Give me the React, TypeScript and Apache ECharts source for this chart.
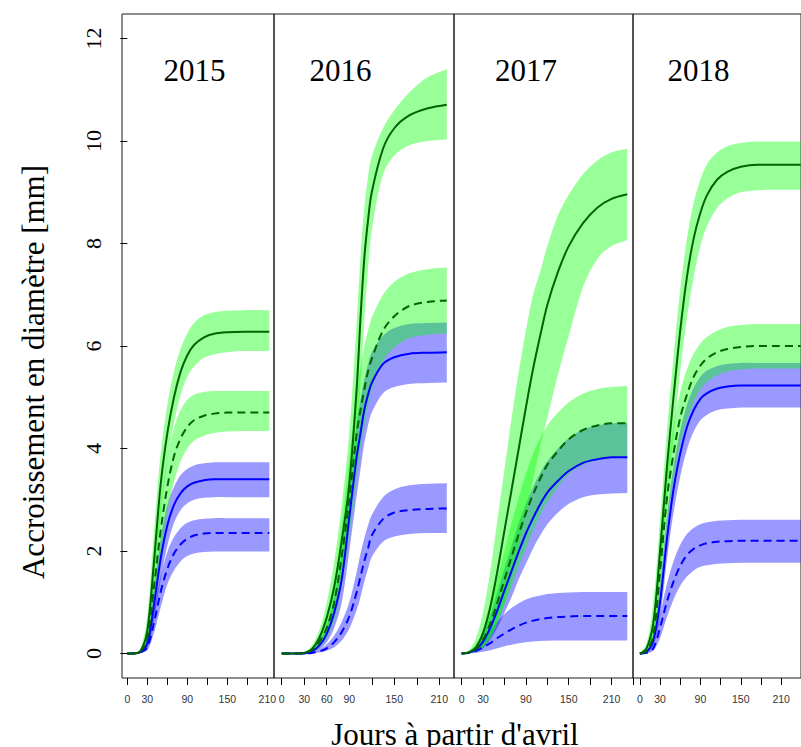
import React, { useEffect, useRef } from "react";
import * as echarts from "echarts";

// ---------- data ----------
const YEARS = ["2015", "2016", "2017", "2018"];
const Y_TICKS = [0, 2, 4, 6, 8, 10, 12];
const X_TICKS_2015 = [0, 30, 60, 90, 120, 150, 180, 210];
const X_LABELS_2015 = [0, 30, 90, 150, 210];
const X_TICKS_2016 = [0, 30, 60, 90, 120, 150, 180, 210];
const X_LABELS_2016 = [0, 30, 60, 90, 150, 210];
const X_TICKS_2017 = [0, 30, 60, 90, 120, 150, 180, 210, 240];
const X_LABELS_2017 = [0, 30, 90, 150, 210];
const X_TICKS_2018 = [0, 30, 60, 90, 120, 150, 180, 210, 240];
const X_LABELS_2018 = [0, 30, 90, 150, 210];

const X_TITLE = "Jours à partir d'avril";
const Y_TITLE = "Accroissement en diamètre [mm]";

// 2015
const DAYS_2015 = [0, 10, 20, 30, 40, 50, 60, 70, 80, 90, 100, 115, 130, 150, 175, 200, 213];
const GS_2015 = [0, 0, 0.05, 0.45, 1.8, 3.3, 4.3, 5.0, 5.5, 5.82, 6.02, 6.17, 6.24, 6.27, 6.28, 6.28, 6.28];
const GS_2015_HI = [0, 0, 0.1, 0.75, 2.4, 3.9, 4.85, 5.5, 5.95, 6.25, 6.45, 6.6, 6.66, 6.69, 6.7, 6.7, 6.7];
const GS_2015_LO = [0, 0, 0.02, 0.25, 1.3, 2.7, 3.75, 4.5, 5.05, 5.4, 5.6, 5.77, 5.84, 5.88, 5.9, 5.9, 5.9];
const GD_2015 = [0, 0, 0.04, 0.3, 1.3, 2.4, 3.25, 3.85, 4.2, 4.42, 4.55, 4.64, 4.68, 4.7, 4.7, 4.7, 4.7];
const GD_2015_HI = [0, 0, 0.08, 0.5, 1.75, 2.95, 3.8, 4.4, 4.75, 4.95, 5.05, 5.1, 5.12, 5.12, 5.12, 5.12, 5.12];
const GD_2015_LO = [0, 0, 0.02, 0.17, 0.9, 1.9, 2.75, 3.35, 3.75, 4.0, 4.15, 4.25, 4.3, 4.33, 4.34, 4.34, 4.34];
const BS_2015 = [0, 0, 0.03, 0.2, 0.95, 1.85, 2.5, 2.9, 3.13, 3.26, 3.33, 3.38, 3.4, 3.4, 3.4, 3.4, 3.4];
const BS_2015_HI = [0, 0, 0.06, 0.35, 1.3, 2.25, 2.9, 3.25, 3.48, 3.6, 3.67, 3.71, 3.73, 3.73, 3.73, 3.73, 3.73];
const BS_2015_LO = [0, 0, 0.01, 0.1, 0.65, 1.45, 2.1, 2.55, 2.8, 2.93, 3.0, 3.04, 3.05, 3.05, 3.05, 3.05, 3.05];
const BD_2015 = [0, 0, 0.02, 0.12, 0.6, 1.2, 1.65, 1.95, 2.13, 2.24, 2.3, 2.34, 2.35, 2.35, 2.35, 2.35, 2.35];
const BD_2015_HI = [0, 0, 0.04, 0.22, 0.85, 1.5, 1.98, 2.27, 2.45, 2.55, 2.6, 2.63, 2.64, 2.64, 2.64, 2.64, 2.64];
const BD_2015_LO = [0, 0, 0.01, 0.06, 0.4, 0.9, 1.35, 1.62, 1.8, 1.9, 1.95, 1.98, 1.99, 1.99, 1.99, 1.99, 1.99];

// 2016
const DAYS_2016 = [0, 10, 20, 30, 40, 50, 60, 70, 80, 90, 100, 105, 110, 115, 120, 135, 150, 170, 195, 220];
const GS_2016 = [0, 0, 0, 0.01, 0.08, 0.3, 0.7, 1.3, 2.2, 3.3, 5.2, 6.55, 7.7, 8.45, 9.0, 9.85, 10.25, 10.5, 10.64, 10.71];
const GS_2016_HI = [0, 0, 0.01, 0.03, 0.15, 0.45, 1.0, 1.8, 2.9, 4.3, 6.5, 7.75, 8.7, 9.3, 9.7, 10.25, 10.6, 10.95, 11.25, 11.4];
const GS_2016_LO = [0, 0, 0, 0, 0.03, 0.18, 0.45, 0.9, 1.6, 2.5, 4.0, 5.25, 6.5, 7.5, 8.25, 9.35, 9.72, 9.92, 10.0, 10.03];
const GD_2016 = [0, 0, 0, 0.01, 0.06, 0.22, 0.5, 1.0, 1.9, 3.0, 4.3, 4.75, 5.15, 5.5, 5.75, 6.3, 6.58, 6.78, 6.86, 6.89];
const GD_2016_HI = [0, 0, 0, 0.02, 0.1, 0.35, 0.75, 1.45, 2.5, 3.8, 5.1, 5.6, 6.0, 6.3, 6.55, 7.0, 7.25, 7.42, 7.5, 7.53];
const GD_2016_LO = [0, 0, 0, 0, 0.03, 0.12, 0.3, 0.65, 1.35, 2.3, 3.5, 4.0, 4.45, 4.85, 5.15, 5.7, 5.97, 6.15, 6.22, 6.25];
const BS_2016 = [0, 0, 0, 0, 0.04, 0.15, 0.38, 0.8, 1.45, 2.65, 3.85, 4.3, 4.75, 5.05, 5.28, 5.65, 5.78, 5.85, 5.87, 5.88];
const BS_2016_HI = [0, 0, 0, 0.01, 0.08, 0.25, 0.55, 1.1, 1.95, 3.3, 4.5, 4.95, 5.35, 5.65, 5.88, 6.2, 6.35, 6.43, 6.45, 6.46];
const BS_2016_LO = [0, 0, 0, 0, 0.02, 0.08, 0.22, 0.5, 1.0, 2.0, 3.1, 3.6, 4.1, 4.45, 4.7, 5.08, 5.2, 5.26, 5.28, 5.29];
const BD_2016 = [0, 0, 0, 0, 0.01, 0.04, 0.1, 0.22, 0.42, 0.72, 1.2, 1.5, 1.8, 2.05, 2.3, 2.62, 2.75, 2.8, 2.82, 2.83];
const BD_2016_HI = [0, 0, 0, 0, 0.03, 0.08, 0.18, 0.35, 0.62, 1.0, 1.6, 1.95, 2.25, 2.5, 2.7, 3.05, 3.2, 3.28, 3.31, 3.32];
const BD_2016_LO = [0, 0, 0, 0, 0, 0.02, 0.05, 0.12, 0.25, 0.48, 0.85, 1.1, 1.4, 1.65, 1.88, 2.18, 2.28, 2.33, 2.35, 2.35];

// 2017
const DAYS_2017 = [0, 10, 20, 30, 40, 50, 60, 70, 80, 90, 100, 110, 120, 135, 150, 170, 190, 210, 232];
const GS_2017 = [0, 0.02, 0.12, 0.4, 0.9, 1.6, 2.4, 3.2, 4.0, 4.8, 5.55, 6.2, 6.8, 7.45, 7.95, 8.4, 8.7, 8.87, 8.96];
const GS_2017_HI = [0, 0.05, 0.3, 0.8, 1.6, 2.6, 3.6, 4.6, 5.5, 6.3, 7.0, 7.45, 7.95, 8.55, 8.95, 9.35, 9.62, 9.78, 9.85];
const GS_2017_LO = [0, 0, 0.03, 0.12, 0.3, 0.6, 1.0, 1.5, 2.1, 2.75, 3.4, 4.05, 4.6, 5.45, 6.2, 7.15, 7.7, 7.95, 8.07];
const GD_2017 = [0, 0.02, 0.09, 0.27, 0.58, 0.99, 1.44, 1.89, 2.33, 2.74, 3.1, 3.41, 3.68, 3.95, 4.18, 4.36, 4.45, 4.49, 4.49];
const GD_2017_HI = [0, 0.04, 0.18, 0.45, 0.9, 1.45, 2.0, 2.55, 3.05, 3.5, 3.9, 4.2, 4.45, 4.7, 4.9, 5.07, 5.16, 5.2, 5.22];
const GD_2017_LO = [0, 0.01, 0.03, 0.12, 0.3, 0.6, 0.95, 1.3, 1.7, 2.05, 2.4, 2.7, 2.95, 3.25, 3.5, 3.68, 3.77, 3.81, 3.83];
const BS_2017 = [0, 0.015, 0.08, 0.23, 0.5, 0.84, 1.23, 1.61, 1.99, 2.34, 2.64, 2.91, 3.14, 3.37, 3.56, 3.72, 3.79, 3.83, 3.83];
const BS_2017_HI = [0, 0.03, 0.15, 0.38, 0.75, 1.2, 1.65, 2.1, 2.55, 2.92, 3.25, 3.52, 3.75, 4.0, 4.2, 4.37, 4.45, 4.49, 4.5];
const BS_2017_LO = [0, 0.005, 0.03, 0.1, 0.27, 0.5, 0.8, 1.1, 1.45, 1.75, 2.05, 2.3, 2.52, 2.75, 2.92, 3.05, 3.1, 3.12, 3.13];
const BD_2017 = [0, 0.01, 0.05, 0.12, 0.2, 0.3, 0.39, 0.47, 0.54, 0.6, 0.64, 0.67, 0.69, 0.71, 0.72, 0.73, 0.73, 0.73, 0.73];
const BD_2017_HI = [0, 0.03, 0.12, 0.28, 0.45, 0.62, 0.77, 0.89, 0.98, 1.05, 1.1, 1.13, 1.16, 1.18, 1.19, 1.2, 1.2, 1.2, 1.2];
const BD_2017_LO = [0, 0, 0.01, 0.03, 0.06, 0.1, 0.14, 0.17, 0.2, 0.22, 0.23, 0.24, 0.245, 0.25, 0.25, 0.25, 0.25, 0.25, 0.25];

// 2018
const DAYS_2018 = [0, 10, 20, 30, 40, 50, 60, 70, 80, 90, 100, 115, 130, 150, 175, 200, 239];
const GS_2018 = [0, 0.1, 0.6, 2.0, 3.6, 5.0, 6.3, 7.35, 8.1, 8.6, 8.95, 9.25, 9.4, 9.5, 9.54, 9.54, 9.54];
const GS_2018_HI = [0, 0.2, 1.0, 2.6, 4.3, 5.8, 7.1, 8.1, 8.8, 9.25, 9.55, 9.78, 9.9, 9.96, 9.99, 9.99, 9.99];
const GS_2018_LO = [0, 0.05, 0.35, 1.4, 2.9, 4.2, 5.5, 6.55, 7.35, 7.95, 8.35, 8.7, 8.88, 9.0, 9.04, 9.05, 9.05];
const GD_2018 = [0, 0.05, 0.35, 1.6, 3.0, 3.9, 4.6, 5.05, 5.4, 5.62, 5.76, 5.88, 5.94, 5.98, 6.0, 6.0, 6.0];
const GD_2018_HI = [0, 0.08, 0.55, 2.0, 3.5, 4.45, 5.1, 5.55, 5.85, 6.05, 6.18, 6.3, 6.37, 6.41, 6.43, 6.43, 6.43];
const GD_2018_LO = [0, 0.02, 0.2, 1.2, 2.5, 3.4, 4.1, 4.55, 4.9, 5.15, 5.3, 5.43, 5.5, 5.54, 5.56, 5.56, 5.56];
const BS_2018 = [0, 0.03, 0.25, 1.0, 2.2, 3.2, 3.9, 4.42, 4.75, 4.97, 5.08, 5.17, 5.21, 5.23, 5.23, 5.23, 5.23];
const BS_2018_HI = [0, 0.05, 0.4, 1.35, 2.65, 3.65, 4.35, 4.85, 5.18, 5.4, 5.52, 5.61, 5.65, 5.67, 5.67, 5.67, 5.67];
const BS_2018_LO = [0, 0.01, 0.15, 0.7, 1.8, 2.75, 3.45, 3.98, 4.33, 4.55, 4.66, 4.75, 4.78, 4.8, 4.8, 4.8, 4.8];
const BD_2018 = [0, 0.01, 0.1, 0.5, 1.0, 1.4, 1.71, 1.92, 2.04, 2.11, 2.15, 2.18, 2.19, 2.2, 2.2, 2.2, 2.2];
const BD_2018_HI = [0, 0.03, 0.2, 0.75, 1.35, 1.8, 2.12, 2.33, 2.45, 2.52, 2.56, 2.59, 2.6, 2.61, 2.61, 2.61, 2.61];
const BD_2018_LO = [0, 0, 0.05, 0.3, 0.7, 1.05, 1.32, 1.5, 1.62, 1.69, 1.72, 1.75, 1.76, 1.77, 1.77, 1.77, 1.77];

// ---------- assembly ----------
const PANELS = [
  { days: DAYS_2015, ticks: X_TICKS_2015, labels: X_LABELS_2015,
    gs: [GS_2015, GS_2015_LO, GS_2015_HI], gd: [GD_2015, GD_2015_LO, GD_2015_HI],
    bs: [BS_2015, BS_2015_LO, BS_2015_HI], bd: [BD_2015, BD_2015_LO, BD_2015_HI] },
  { days: DAYS_2016, ticks: X_TICKS_2016, labels: X_LABELS_2016,
    gs: [GS_2016, GS_2016_LO, GS_2016_HI], gd: [GD_2016, GD_2016_LO, GD_2016_HI],
    bs: [BS_2016, BS_2016_LO, BS_2016_HI], bd: [BD_2016, BD_2016_LO, BD_2016_HI] },
  { days: DAYS_2017, ticks: X_TICKS_2017, labels: X_LABELS_2017,
    gs: [GS_2017, GS_2017_LO, GS_2017_HI], gd: [GD_2017, GD_2017_LO, GD_2017_HI],
    bs: [BS_2017, BS_2017_LO, BS_2017_HI], bd: [BD_2017, BD_2017_LO, BD_2017_HI] },
  { days: DAYS_2018, ticks: X_TICKS_2018, labels: X_LABELS_2018,
    gs: [GS_2018, GS_2018_LO, GS_2018_HI], gd: [GD_2018, GD_2018_LO, GD_2018_HI],
    bs: [BS_2018, BS_2018_LO, BS_2018_HI], bd: [BD_2018, BD_2018_LO, BD_2018_HI] },
];

// layout (pixels / axis ranges)
const GRID_LEFT = [122, 274, 454, 633];
const GRID_WIDTH = [152, 180, 179, 180];
const GRID_TOP = 14;
const GRID_HEIGHT = 664;
const X_MIN = [-8, -10.3, -10.7, -10.2];
const X_MAX = [220, 229.6, 240, 239.5];
const Y_MIN = -0.48;
const Y_MAX = 12.48;
const YEAR_X = [194.5, 340.5, 526, 698.5];

const GREEN_LINE = "#006400";
const BLUE_LINE = "#0000ff";
const GREEN_BAND = "rgba(0,255,0,0.4)";
const BLUE_BAND = "rgba(0,0,255,0.4)";
const SMOOTH = 0.33;
const SERIF = "Liberation Serif";
const SANS = "Liberation Sans";

function pairs(days: number[], vals: number[]) {
  return days.map((d, k) => [d, vals[k]]);
}

// same smoothing scheme as ECharts' line series (non-monotone), so band edges follow the lines
function smoothCurve(pts: number[][], smooth: number): string {
  const n = pts.length;
  const cpsAfter: number[][] = [];
  const cpsBefore: number[][] = [];
  for (let k = 0; k < n; k++) {
    const p = pts[k];
    const prev = k > 0 ? pts[k - 1] : p;
    const next = k < n - 1 ? pts[k + 1] : p;
    const vx = next[0] - prev[0];
    const vy = next[1] - prev[1];
    const l0 = Math.hypot(p[0] - prev[0], p[1] - prev[1]);
    const l1 = Math.hypot(next[0] - p[0], next[1] - p[1]);
    const r = l0 + l1 > 0 ? l1 / (l0 + l1) : 0.5;
    cpsAfter.push([p[0] + vx * smooth * r, p[1] + vy * smooth * r]);
    cpsBefore.push([p[0] - vx * smooth * (1 - r), p[1] - vy * smooth * (1 - r)]);
  }
  let s = "";
  for (let k = 0; k < n - 1; k++) {
    const a = cpsAfter[k];
    const b = cpsBefore[k + 1];
    const q = pts[k + 1];
    s += " C " + a[0] + " " + a[1] + " " + b[0] + " " + b[1] + " " + q[0] + " " + q[1];
  }
  return s;
}

function bandSeries(i: number, days: number[], lo: number[], hi: number[], color: string, z: number) {
  return {
    type: "custom", xAxisIndex: i, yAxisIndex: i, silent: true, z,
    data: days.map((d, k) => [d, lo[k], hi[k]]),
    encode: { x: 0, y: [1, 2] },
    renderItem: (params: any, api: any) => {
      if (params.dataIndex !== 0) return null;
      const up = days.map((d, k) => api.coord([d, hi[k]]));
      const dn = days.map((d, k) => api.coord([d, lo[k]])).reverse();
      const pathData =
        "M " + up[0][0] + " " + up[0][1] + smoothCurve(up, SMOOTH) +
        " L " + dn[0][0] + " " + dn[0][1] + smoothCurve(dn, SMOOTH) + " Z";
      return { type: "path", shape: { pathData }, style: { fill: color, stroke: null } };
    },
  };
}

function lineSeries(i: number, days: number[], vals: number[], color: string, dashed: boolean) {
  return {
    type: "line", xAxisIndex: i, yAxisIndex: i,
    data: pairs(days, vals), symbol: "none", smooth: SMOOTH, silent: true, z: 5,
    lineStyle: { color, width: 2, type: dashed ? [8, 5] : "solid" },
    emphasis: { disabled: true },
  };
}

function buildOption() {
  const grid: any[] = [];
  const xAxis: any[] = [];
  const yAxis: any[] = [];
  const series: any[] = [];
  PANELS.forEach((p, i) => {
    grid.push({
      left: GRID_LEFT[i], top: GRID_TOP, width: GRID_WIDTH[i], height: GRID_HEIGHT,
      show: true, borderColor: "#1a1a1a", borderWidth: 1, backgroundColor: "transparent",
    });
    xAxis.push({
      type: "value", gridIndex: i, min: X_MIN[i], max: X_MAX[i],
      axisLine: { show: false, onZero: false },
      splitLine: { show: false },
      axisTick: { show: true, length: 7, customValues: p.ticks, lineStyle: { color: "#000", width: 1 } },
      axisLabel: { show: true, customValues: p.labels, margin: 15, fontSize: 10.5, fontFamily: SANS, color: "#333" },
    });
    yAxis.push({
      type: "value", gridIndex: i, min: Y_MIN, max: Y_MAX,
      axisLine: { show: false },
      splitLine: { show: false },
      axisTick: { show: i === 0, length: 7, customValues: Y_TICKS, lineStyle: { color: "#000", width: 1 } },
      axisLabel: { show: i === 0, customValues: Y_TICKS, rotate: 90, margin: 18, fontSize: 22, fontFamily: SERIF, color: "#000" },
    });
    series.push(bandSeries(i, p.days, p.bs[1], p.bs[2], BLUE_BAND, 1));
    series.push(bandSeries(i, p.days, p.bd[1], p.bd[2], BLUE_BAND, 1));
    series.push(bandSeries(i, p.days, p.gs[1], p.gs[2], GREEN_BAND, 2));
    series.push(bandSeries(i, p.days, p.gd[1], p.gd[2], GREEN_BAND, 2));
    series.push(lineSeries(i, p.days, p.bd[0], BLUE_LINE, true));
    series.push(lineSeries(i, p.days, p.bs[0], BLUE_LINE, false));
    series.push(lineSeries(i, p.days, p.gd[0], GREEN_LINE, true));
    series.push(lineSeries(i, p.days, p.gs[0], GREEN_LINE, false));
  });

  const graphic: any[] = YEARS.map((y, i) => ({
    type: "text", x: YEAR_X[i], y: 70, z: 10,
    style: { text: y, fontSize: 31, fontFamily: SERIF, fill: "#000", textAlign: "center", textVerticalAlign: "middle" },
  }));
  graphic.push({
    type: "text", x: 33, y: 372, rotation: Math.PI / 2, z: 10,
    style: { text: Y_TITLE, fontSize: 31, fontFamily: SERIF, fill: "#000", textAlign: "center", textVerticalAlign: "middle" },
  });
  graphic.push({
    type: "text", x: 455, y: 734, z: 10,
    style: { text: X_TITLE, fontSize: 31, fontFamily: SERIF, fill: "#000", textAlign: "center", textVerticalAlign: "middle" },
  });

  return {
    animation: false,
    backgroundColor: "#ffffff",
    grid, xAxis, yAxis, series, graphic,
  };
}

export default function App() {
  const ref = useRef<HTMLDivElement>(null);
  useEffect(() => {
    if (!ref.current) return;
    const chart = echarts.init(ref.current, undefined, { renderer: "svg" });
    chart.setOption(buildOption());
    return () => chart.dispose();
  }, []);
  return (
    <div
      ref={ref}
      style={{ position: "absolute", left: 0, top: 0, width: 801, height: 747, overflow: "hidden" }}
    />
  );
}
